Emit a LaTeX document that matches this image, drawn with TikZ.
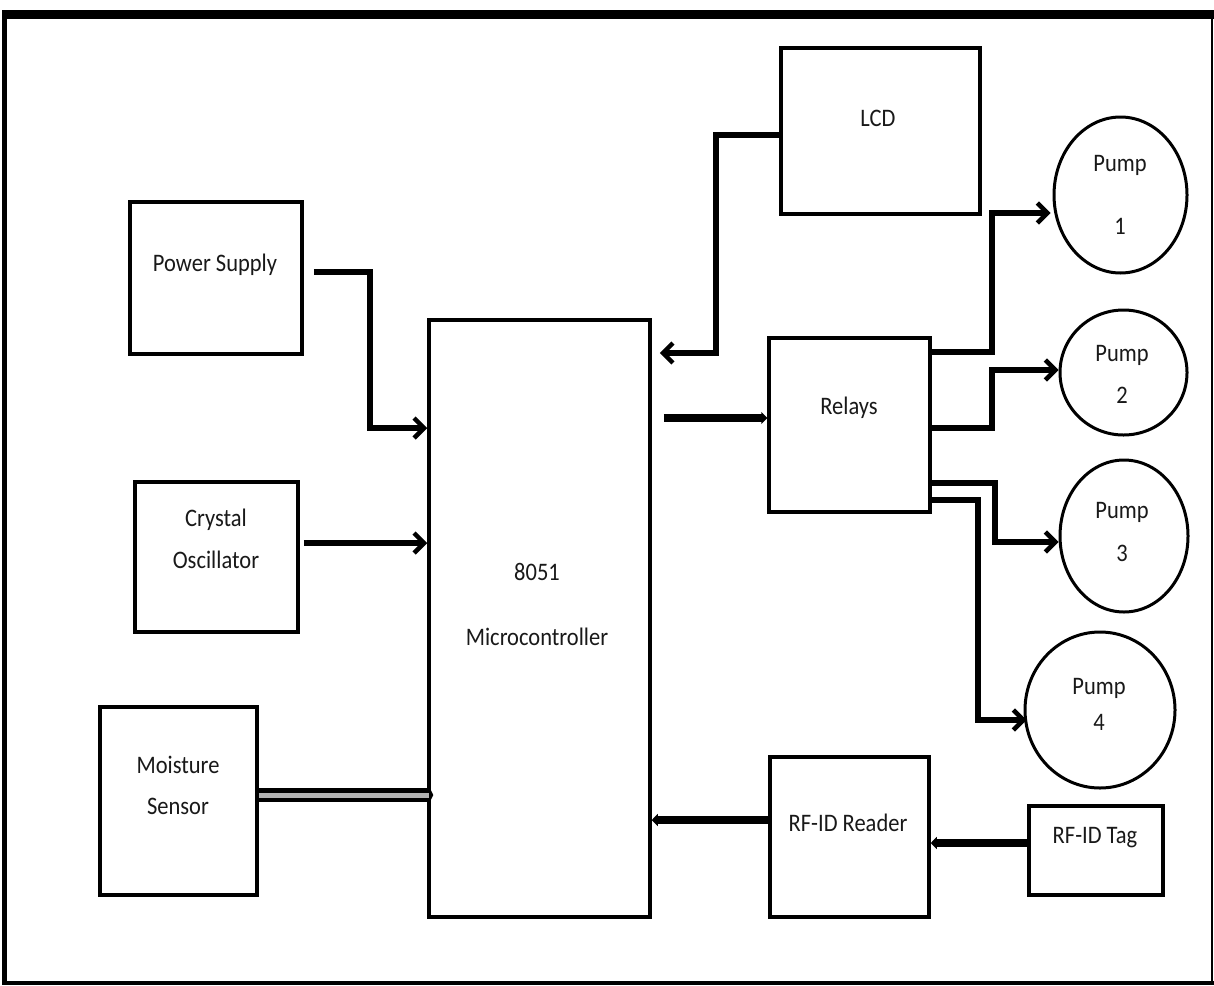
\documentclass[tikz,border=0pt]{standalone}
\usepackage{fontspec}
\setmainfont{Carlito}
\usetikzlibrary{arrows.meta,shapes.geometric,calc}
\begin{document}
\begin{tikzpicture}[x=1pt,y=-1pt,
  pump/.style={draw,ellipse,line width=3pt},
  lbl/.style={font=\fontsize{22.5}{26}\selectfont,text=black!90,inner sep=0pt},
  conn/.style={line width=5.5pt,-{Straight Barb[length=10pt,width=20pt,line width=4.5pt]}},
  thick conn/.style={line width=8.5pt,-{Triangle[length=6pt,width=12pt]}},
  dbl outer/.style={line width=14pt,-{Triangle[length=5pt,width=20pt]}},
  dbl inner/.style={line width=5pt,draw=black!30}
]
\useasboundingbox (0,0) rectangle (1214,985);
\fill[white] (0,0) rectangle (1214,985);
% frame
\fill (2,10) rectangle (1214,19);
\fill (2,10) rectangle (7,985);
\fill (2,981) rectangle (1214,985);
\fill (1210.5,10) rectangle (1212.5,985);
% boxes
\node[draw,line width=3.5pt,minimum width=172pt,minimum height=152pt] (ps) at (216,278) {};
\node[draw,line width=3.5pt,minimum width=163pt,minimum height=150pt] (xo) at (216.5,557) {};
\node[draw,line width=3.5pt,minimum width=157pt,minimum height=188pt] (ms) at (178.5,801) {};
\node[draw,line width=3.5pt,minimum width=221pt,minimum height=597pt] (mc) at (539.5,618.5) {};
\node[draw,line width=3.5pt,minimum width=199pt,minimum height=166pt] (lcd) at (880.5,131) {};
\node[draw,line width=3.5pt,minimum width=161pt,minimum height=174pt] (rel) at (849.5,425) {};
\node[draw,line width=3.5pt,minimum width=159pt,minimum height=160pt] (rdr) at (849.5,837) {};
\node[draw,line width=3.5pt,minimum width=134pt,minimum height=89pt] (tag) at (1096,850.5) {};
\node[pump,minimum width=133pt,minimum height=156pt] (p1) at (1120.5,195) {};
\node[pump,minimum width=127pt,minimum height=125pt] (p2) at (1123.5,372.5) {};
\node[pump,minimum width=128pt,minimum height=152pt] (p3) at (1124,536) {};
\node[pump,minimum width=150pt,minimum height=156pt] (p4) at (1100,710) {};
% labels
\node[lbl] (tps) at (215,265) {\scalebox{1}[1.12]{Power Supply}};
\node[lbl] (txo1) at (216,520) {\scalebox{1}[1.12]{Crystal}};
\node[lbl] (txo2) at (216,560) {\scalebox{1}[1.12]{Oscillator}};
\node[lbl] (tms1) at (178,765) {\scalebox{1}[1.12]{Moisture}};
\node[lbl] (tms2) at (178,806) {\scalebox{1}[1.12]{Sensor}};
\node[lbl] (tmc1) at (537,572) {\scalebox{1}[1.12]{8051}};
\node[lbl] (tmc2) at (537,637) {\scalebox{1}[1.12]{Microcontroller}};
\node[lbl] (tlcd) at (878,118) {\scalebox{1}[1.12]{LCD}};
\node[lbl] (trel) at (849,408) {\scalebox{1}[1.12]{Relays}};
\node[lbl] (trdr) at (848,823) {\scalebox{1}[1.12]{RF-ID Reader}};
\node[lbl] (ttag) at (1095,838) {\scalebox{1}[1.12]{RF-ID Tag}};
\node[lbl] (tp1a) at (1120,165) {\scalebox{1}[1.12]{Pump}};
\node[lbl] (tp1b) at (1120,226) {\scalebox{1}[1.12]{1}};
\node[lbl] (tp2a) at (1122,355) {\scalebox{1}[1.12]{Pump}};
\node[lbl] (tp2b) at (1122,395) {\scalebox{1}[1.12]{2}};
\node[lbl] (tp3a) at (1122,512) {\scalebox{1}[1.12]{Pump}};
\node[lbl] (tp3b) at (1122,553) {\scalebox{1}[1.12]{3}};
\node[lbl] (tp4a) at (1099,688) {\scalebox{1}[1.12]{Pump}};
\node[lbl] (tp4b) at (1099,722) {\scalebox{1}[1.12]{4}};
% connectors
\draw[conn] ($(ps.east)+(10,-6)$) -| (370,428) -- (mc.west |- 0,428);
\draw[conn] ($(xo.east)+(4,-14)$) -- (mc.west |- 0,543);
\draw[dbl outer] (ms.east |- 0,795) -- ($(mc.west |- 0,795)+(6,0)$);
\draw[dbl inner] (ms.east |- 0,795) -- ($(mc.west |- 0,795)+(2,0)$);
\draw[conn] (lcd.west |- 0,135) -| (716,353) -- ($(mc.east |- 0,353)+(8,0)$);
\draw[thick conn] ($(mc.east |- 0,418)+(12,0)$) -- (rel.west |- 0,418);
\draw[conn] (rel.east |- 0,352) -| (992,213) -- ($(p1.west |- 0,213)+(-2,0)$);
\draw[conn] (rel.east |- 0,428) -| (992,370) -- (p2.west |- 0,370);
\draw[conn] (rel.east |- 0,483) -| (995,542) -- (p3.west |- 0,542);
\draw[conn] (rel.east |- 0,500) -| (978,720) -- ($(p4.west |- 0,720)+(3,0)$);
\draw[thick conn] (rdr.west |- 0,820) -- (mc.east |- 0,820);
\draw[thick conn] (tag.west |- 0,843) -- (rdr.east |- 0,843);
\end{tikzpicture}
\end{document}
